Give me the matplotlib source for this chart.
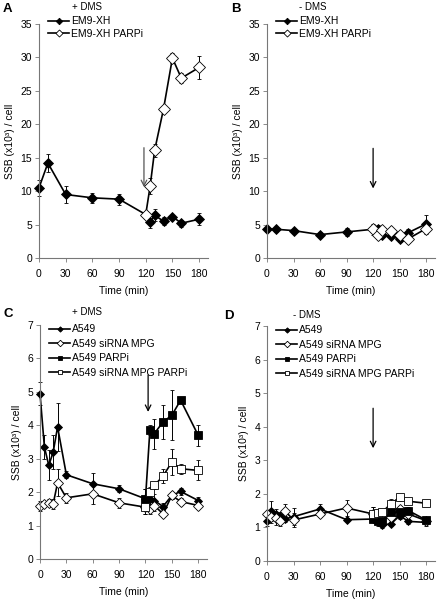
import numpy as np
import matplotlib
matplotlib.use("Agg")
import matplotlib.pyplot as plt

plt.rcParams['font.family'] = ['Liberation Sans', 'DejaVu Sans']

# ---- panel A : EM9-XH, + DMS
tA_black = [0, 10, 30, 60, 90, 120, 125, 130, 140, 150, 160, 180]
a_black = [10.5, 14.2, 9.5, 9.0, 8.8, 6.5, 5.4, 6.4, 5.5, 6.2, 5.2, 5.8]
a_black_err = [1.2, 1.4, 1.2, 0.7, 0.8, 0.6, 0.9, 0.9, 0.6, 0.3, 0.5, 0.9]
tA_white = [120, 125, 130, 140, 150, 160, 180]
a_white = [6.5, 10.8, 16.1, 22.3, 29.9, 26.9, 28.5]
a_white_err = [0.5, 1.2, 1.0, 0.3, 0.8, 0.7, 1.7]

# ---- panel B : EM9-XH, - DMS
tB_black = [0, 10, 30, 60, 90, 120, 125, 130, 140, 150, 160, 180]
b_black = [4.3, 4.3, 4.1, 3.5, 3.9, 4.3, 4.4, 3.5, 3.3, 2.8, 3.8, 5.1]
b_black_err = [0.4, 0.4, 0.3, 0.4, 0.6, 0.5, 0.5, 0.4, 0.3, 0.4, 0.5, 1.4]
tB_white = [120, 125, 130, 140, 150, 160, 180]
b_white = [4.3, 3.4, 4.2, 4.0, 3.5, 2.9, 4.4]
b_white_err = [0.8, 0.5, 0.4, 0.4, 0.5, 0.7, 0.8]

# ---- panel C : A549, + DMS
tC = [0, 5, 10, 15, 20, 30, 60, 90, 120, 125, 130, 140, 150, 160, 180]
c_a549 = [4.95, 3.35, 2.8, 3.2, 3.95, 2.52, 2.25, 2.1, 1.8, 1.8, 1.75, 1.57, 1.9, 2.02, 1.75]
c_a549_err = [0.33, 0.35, 0.45, 0.5, 0.72, 0.1, 0.33, 0.1, 0.3, 0.2, 0.2, 0.1, 0.1, 0.1, 0.1]
c_mpg = [1.6, 1.65, 1.68, 1.65, 2.28, 1.83, 1.95, 1.68, 1.55, 1.5, 1.6, 1.35, 1.9, 1.72, 1.6]
c_mpg_err = [0.15, 0.1, 0.1, 0.15, 0.4, 0.15, 0.3, 0.15, 0.2, 0.15, 0.15, 0.1, 0.1, 0.1, 0.1]
tC_p = [120, 125, 130, 140, 150, 160, 180]
c_parp = [1.8, 3.85, 3.75, 4.1, 4.3, 4.75, 3.7]
c_parp_err = [0.3, 0.15, 0.45, 0.5, 0.75, 0.05, 0.32]
c_mpgparp = [1.55, 2.0, 2.2, 2.48, 2.9, 2.7, 2.65]
c_mpgparp_err = [0.2, 0.15, 0.1, 0.2, 0.4, 0.15, 0.3]

# ---- panel D : A549, - DMS
tD = [0, 5, 10, 15, 20, 30, 60, 90, 120, 125, 130, 140, 150, 160, 180]
d_a549 = [1.2, 1.5, 1.4, 1.35, 1.25, 1.32, 1.55, 1.23, 1.25, 1.15, 1.08, 1.1, 1.35, 1.18, 1.15]
d_a549_err = [0.15, 0.3, 0.15, 0.1, 0.1, 0.25, 0.15, 0.05, 0.1, 0.1, 0.1, 0.05, 0.1, 0.08, 0.1]
d_mpg = [1.4, 1.32, 1.27, 1.2, 1.5, 1.22, 1.4, 1.58, 1.4, 1.35, 1.3, 1.32, 1.55, 1.4, 1.2]
d_mpg_err = [0.1, 0.2, 0.2, 0.15, 0.2, 0.2, 0.1, 0.25, 0.2, 0.15, 0.1, 0.1, 0.1, 0.1, 0.1]
tD_p = [120, 125, 130, 140, 150, 160, 180]
d_parp = [1.25, 1.2, 1.2, 1.45, 1.45, 1.5, 1.22]
d_parp_err = [0.1, 0.1, 0.1, 0.1, 0.1, 0.1, 0.1]
d_mpgparp = [1.4, 1.42, 1.45, 1.7, 1.9, 1.78, 1.72]
d_mpgparp_err = [0.2, 0.1, 0.1, 0.15, 0.1, 0.05, 0.05]

labels_em9 = ['EM9-XH', 'EM9-XH PARPi']
labels_a549 = ['A549', 'A549 siRNA MPG', 'A549 PARPi', 'A549 siRNA MPG PARPi']
xticks = [0, 30, 60, 90, 120, 150, 180]
ylab = 'SSB (x10³) / cell'

fig = plt.figure(figsize=(4.38, 6.03), dpi=100)
W, H = 438, 603


def px_axes(l, r, b, t):
    return fig.add_axes([l / W, (H - b) / H, (r - l) / W, (b - t) / H])


def series(ax, t, y, e, marker, face, ms):
    c = ax.errorbar(t, y, yerr=e, color='black', marker=marker, mfc=face, mec='black',
                    ms=ms, lw=1.2, elinewidth=0.7, capsize=1.6, capthick=0.7,
                    mew=0.6, clip_on=False)
    return c[0]


def style(ax, ymax, ystep):
    ax.set_xlim(0, 190)
    ax.set_ylim(0, ymax)
    ax.set_xticks(xticks)
    ax.set_yticks(np.arange(0, ymax + 0.01, ystep))
    for s in ['top', 'right']:
        ax.spines[s].set_visible(False)
    for s in ['left', 'bottom']:
        ax.spines[s].set_color('#777777')
        ax.spines[s].set_linewidth(0.8)
    ax.tick_params(length=3, width=0.6, color='#777777', labelsize=7.5, pad=2)
    ax.tick_params(axis='x', pad=5)
    ax.set_xlabel('Time (min)', fontsize=7.5, labelpad=5)
    ax.set_ylabel(ylab, fontsize=7.5, labelpad=4)


def arrow(ax, x, y0, y1, col='black'):
    ax.annotate('', xy=(x, y1), xytext=(x, y0),
                arrowprops=dict(arrowstyle='->', color=col, lw=0.9, shrinkA=0, shrinkB=0))


def leg(ax, handles, labels, y, sp):
    ax.legend(handles, labels, loc='upper left', bbox_to_anchor=(0.03, y), frameon=False,
              fontsize=7.5, handlelength=2.0, handletextpad=0.2, labelspacing=sp,
              markerscale=0.6, borderaxespad=0)


# A
ax = px_axes(39, 208, 258, 24)
h = [series(ax, tA_black, a_black, a_black_err, 'D', 'black', 5.5),
     series(ax, tA_white, a_white, a_white_err, 'D', 'white', 6)]
style(ax, 35, 5)
arrow(ax, 118, 16.5, 10.6, '#555555')
leg(ax, h, labels_em9, 1.05, 0.25)

# B
ax = px_axes(267, 435, 258, 24)
h = [series(ax, tB_black, b_black, b_black_err, 'D', 'black', 5.5),
     series(ax, tB_white, b_white, b_white_err, 'D', 'white', 6)]
style(ax, 35, 5)
arrow(ax, 120, 16.4, 10.4)
leg(ax, h, labels_em9, 1.05, 0.25)

# C
ax = px_axes(40, 207, 559, 325)
h = [series(ax, tC, c_a549, c_a549_err, 'D', 'black', 4.5),
     series(ax, tC, c_mpg, c_mpg_err, 'D', 'white', 5.5),
     series(ax, tC_p, c_parp, c_parp_err, 's', 'black', 5.5),
     series(ax, tC_p, c_mpgparp, c_mpgparp_err, 's', 'white', 5.5)]
style(ax, 7, 1)
arrow(ax, 123, 5.5, 4.4)
leg(ax, h, labels_a549, 1.02, 0.42)

# D
ax = px_axes(267, 435, 561, 326)
h = [series(ax, tD, d_a549, d_a549_err, 'D', 'black', 4.5),
     series(ax, tD, d_mpg, d_mpg_err, 'D', 'white', 5.5),
     series(ax, tD_p, d_parp, d_parp_err, 's', 'black', 5.5),
     series(ax, tD_p, d_mpgparp, d_mpgparp_err, 's', 'white', 5.5)]
style(ax, 7, 1)
arrow(ax, 120, 4.55, 3.36)
leg(ax, h, labels_a549, 1.02, 0.42)

# panel letters and treatment labels
fig.text(3 / W, 1 - 9 / H, 'A', fontsize=9.5, fontweight='bold', va='center')
fig.text(231 / W, 1 - 9 / H, 'B', fontsize=9.5, fontweight='bold', va='center')
fig.text(3 / W, 1 - 314 / H, 'C', fontsize=9.5, fontweight='bold', va='center')
fig.text(224 / W, 1 - 316 / H, 'D', fontsize=9.5, fontweight='bold', va='center')
fig.text(72 / W, 1 - 7 / H, '+ DMS', fontsize=7, va='center')
fig.text(299 / W, 1 - 7 / H, '- DMS', fontsize=7, va='center')
fig.text(72 / W, 1 - 312 / H, '+ DMS', fontsize=7, va='center')
fig.text(293 / W, 1 - 315 / H, '- DMS', fontsize=7, va='center')

fig.savefig('out.png', dpi=100)
